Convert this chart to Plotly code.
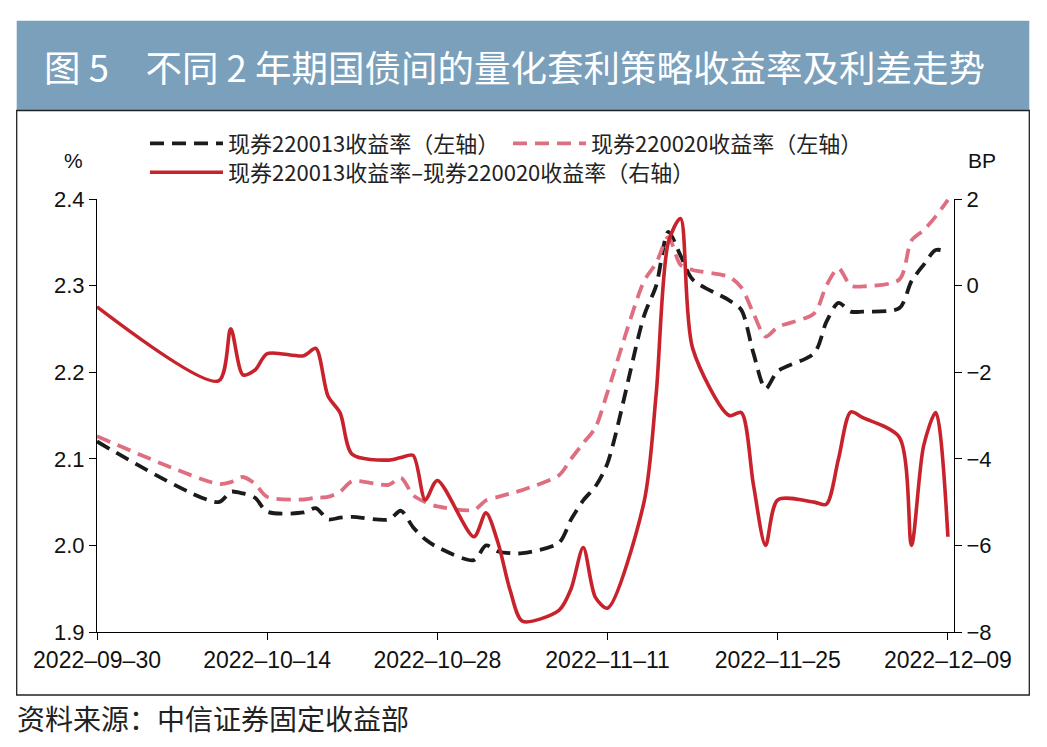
import plotly.graph_objects as go

# trading days shown in the chart
dates = ["2022-09-30", "2022-10-10", "2022-10-11", "2022-10-12", "2022-10-13", "2022-10-14",
         "2022-10-17", "2022-10-18", "2022-10-19", "2022-10-20", "2022-10-21",
         "2022-10-24", "2022-10-25", "2022-10-26", "2022-10-27", "2022-10-28",
         "2022-10-31", "2022-11-01", "2022-11-02", "2022-11-03", "2022-11-04",
         "2022-11-07", "2022-11-08", "2022-11-09", "2022-11-10", "2022-11-11",
         "2022-11-14", "2022-11-15", "2022-11-16", "2022-11-17", "2022-11-18",
         "2022-11-21", "2022-11-22", "2022-11-23", "2022-11-24", "2022-11-25",
         "2022-11-28", "2022-11-29", "2022-11-30", "2022-12-01", "2022-12-02",
         "2022-12-05", "2022-12-06", "2022-12-07", "2022-12-08", "2022-12-09"]

# 现券220013 yield (%)
yield_220013 = [2.120, 2.050, 2.062, 2.060, 2.055, 2.039,
                2.038, 2.043, 2.030, 2.032, 2.033,
                2.030, 2.040, 2.021, 2.007, 1.998,
                1.983, 2.000, 1.993, 1.991, 1.991,
                2.003, 2.030, 2.052, 2.068, 2.095,
                2.265, 2.300, 2.362, 2.335, 2.307,
                2.283, 2.272, 2.222, 2.181, 2.201,
                2.222, 2.258, 2.280, 2.270, 2.270,
                2.274, 2.305, 2.324, 2.341, 2.339]

# 现券220020 yield (%)
yield_220020 = [2.126, 2.071, 2.073, 2.079, 2.071, 2.056,
                2.053, 2.055, 2.056, 2.062, 2.074,
                2.070, 2.078, 2.058, 2.050, 2.045,
                2.041, 2.052, 2.056, 2.060, 2.064,
                2.081, 2.100, 2.118, 2.136, 2.177,
                2.305, 2.326, 2.356, 2.324, 2.318,
                2.310, 2.298, 2.268, 2.241, 2.252,
                2.268, 2.300, 2.320, 2.300, 2.299,
                2.307, 2.352, 2.364, 2.380, 2.399]

# spread in BP
spread_bp = [-0.49, -2.20, -1.00, -2.06, -1.95, -1.57,
             -1.62, -1.45, -2.55, -2.94, -3.90,
             -4.03, -3.97, -3.92, -4.95, -4.50,
             -5.80, -5.25, -5.95, -7.05, -7.75,
             -7.50, -7.00, -6.05, -7.20, -7.45,
             -5.00, -2.50, 1.00, 1.55, -1.45,
             -3.00, -2.93, -4.60, -6.00, -4.95,
             -5.00, -5.05, -4.00, -2.92, -3.05,
             -3.50, -6.00, -3.70, -2.93, -5.80]

tick_dates = ["2022-09-30", "2022-10-14", "2022-10-28", "2022-11-11", "2022-11-25", "2022-12-09"]
tick_text = [d.replace("-", "–") for d in tick_dates]

names = ["现券220013收益率（左轴）", "现券220020收益率（左轴）",
         "现券220013收益率–现券220020收益率（右轴）"]

W, H = 1047, 747
L, R, T, B = 97, 93, 199, 115
PW, PH = W - L - R, H - T - B


def xp(px):
    return (px - L) / PW


def yp(py):
    return (H - B - py) / PH


BLACK = "#1b1b1b"
PINK = "#df6f80"
RED = "#c8232d"
CJK = "Noto Sans CJK SC"
LAT = "Liberation Sans, Arial"

fig = go.Figure()
fig.add_scatter(x=dates, y=yield_220013, name=names[0], mode="lines", legend="legend",
                line=dict(color=BLACK, width=3.8, dash="14px,8px", shape="spline", smoothing=0.8))
fig.add_scatter(x=dates, y=yield_220020, name=names[1], mode="lines", legend="legend2",
                line=dict(color=PINK, width=3.8, dash="14px,8px", shape="spline", smoothing=0.8))
fig.add_scatter(x=dates, y=spread_bp, name=names[2], mode="lines", yaxis="y2", legend="legend3",
                line=dict(color=RED, width=3.6, shape="spline", smoothing=0.8))

leg = dict(xref="container", yref="container", xanchor="left", yanchor="middle",
           orientation="h", itemwidth=73, bgcolor="rgba(0,0,0,0)", borderwidth=0,
           font=dict(family=CJK, size=22, color="#222"))

fig.update_layout(
    width=W, height=H,
    margin=dict(l=L, r=R, t=T, b=B, autoexpand=False),
    paper_bgcolor="white", plot_bgcolor="white",
    showlegend=True,
    legend=dict(leg, x=145 / W, y=1 - 143.5 / H),
    legend2=dict(leg, x=508 / W, y=1 - 143.5 / H),
    legend3=dict(leg, x=145 / W, y=1 - 172.5 / H),
    title=dict(text="图 5　不同 2 年期国债间的量化套利策略收益率及利差走势",
               xref="container", yref="container", x=44 / W, y=1 - 69 / H,
               xanchor="left", yanchor="middle",
               font=dict(family=CJK, size=36.5, color="white")),
    xaxis=dict(type="date", range=["2022-09-30", "2022-12-09 12:00"],
               tickvals=tick_dates, ticktext=tick_text,
               showgrid=False, zeroline=False, showline=True, linecolor="black", linewidth=1,
               ticks="outside", ticklen=7, tickcolor="black", tickwidth=1,
               tickfont=dict(family=LAT, size=23, color="#111")),
    yaxis=dict(range=[1.9, 2.4], dtick=0.1, tickformat=".1f",
               showgrid=False, zeroline=False, showline=True, linecolor="black", linewidth=1,
               ticks="outside", ticklen=7, tickcolor="black", tickwidth=1,
               tickfont=dict(family=LAT, size=22, color="#111")),
    yaxis2=dict(range=[-8, 2], dtick=2, overlaying="y", side="right",
                showgrid=False, zeroline=False, showline=True, linecolor="black", linewidth=1,
                ticks="outside", ticklen=7, tickcolor="black", tickwidth=1,
                tickfont=dict(family=LAT, size=22, color="#111")),
    shapes=[
        dict(type="rect", xref="paper", yref="paper", layer="below",
             x0=xp(16.7), x1=xp(1029.3), y0=yp(110), y1=yp(20.7),
             fillcolor="#7ba0bb", line=dict(width=0)),
        dict(type="rect", xref="paper", yref="paper", layer="below",
             x0=xp(16.7), x1=xp(1029.3), y0=yp(695), y1=yp(110.5),
             fillcolor="rgba(0,0,0,0)", line=dict(color="#222", width=1.3)),
    ],
    annotations=[
        dict(text="%", xref="paper", yref="paper", x=xp(73), y=yp(161),
             showarrow=False, xanchor="center", yanchor="middle",
             font=dict(family=LAT, size=21, color="#111")),
        dict(text="BP", xref="paper", yref="paper", x=xp(982), y=yp(161),
             showarrow=False, xanchor="center", yanchor="middle",
             font=dict(family=LAT, size=21, color="#111")),
        dict(text="资料来源：中信证券固定收益部", xref="paper", yref="paper",
             x=xp(15), y=yp(718), showarrow=False, xanchor="left", yanchor="middle",
             font=dict(family=CJK, size=28, color="#222")),
    ],
)

fig.write_html("out.html", config={"displayModeBar": False},
               post_script="document.body.style.margin='0';")
